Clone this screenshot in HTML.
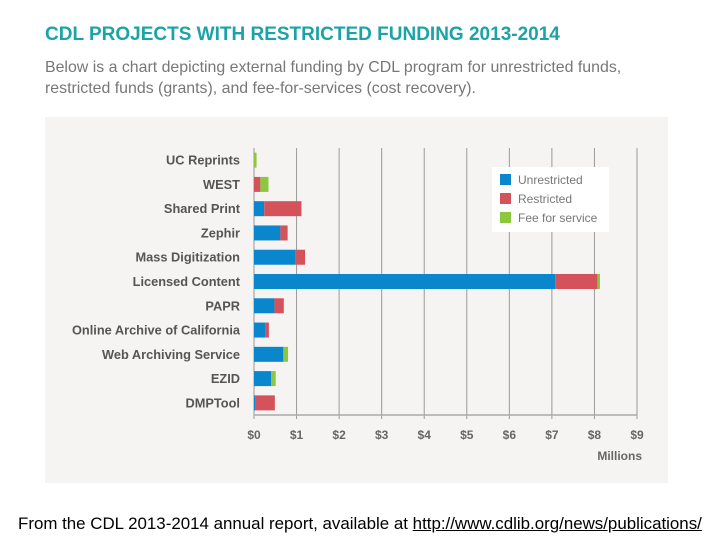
<!DOCTYPE html>
<html><head><meta charset="utf-8"><style>
body{margin:0;width:720px;height:540px;background:#fff;position:relative;overflow:hidden;font-family:"Liberation Sans",sans-serif}
.t{position:absolute;white-space:nowrap}
</style></head><body>
<div class="t" style="left:45px;top:24px;font-size:19px;font-weight:bold;color:#1ba3a8">CDL PROJECTS WITH RESTRICTED FUNDING 2013-2014</div>
<div class="t" style="left:45px;top:57px;font-size:15.9px;line-height:21px;color:#777">Below is a chart depicting external funding by CDL program for unrestricted funds,<br>restricted funds (grants), and fee-for-services (cost recovery).</div>
<svg id="c" style="position:absolute;left:0;top:0" width="720" height="540"></svg>
<div class="t" style="left:18px;top:514px;font-size:16.9px;color:#000">From the CDL 2013-2014 annual report, available at <span style="color:#000;text-decoration:underline">http://www.cdlib.org/news/publications/</span></div>
<script>
const categories=["UC Reprints","WEST","Shared Print","Zephir","Mass Digitization","Licensed Content","PAPR","Online Archive of California","Web Archiving Service","EZID","DMPTool"];
const unrestricted=[0,0,0.24,0.62,0.98,7.08,0.48,0.26,0.69,0.40,0.04];
const restricted=[0,0.15,0.875,0.17,0.22,0.99,0.22,0.09,0,0,0.45];
const feeForService=[0.06,0.19,0,0,0,0.06,0,0,0.11,0.11,0];
const ticks=[0,1,2,3,4,5,6,7,8,9];
const tickLabels=["$0","$1","$2","$3","$4","$5","$6","$7","$8","$9"];
const svg=document.getElementById('c');const NS="http://www.w3.org/2000/svg";
function mk(t,a,p){const e=document.createElementNS(NS,t);for(const k in a)e.setAttribute(k,a[k]);(p||svg).appendChild(e);return e;}
const x0=254,x1=637,yTop=148,yBase=415;
const xs=v=>x0+(x1-x0)*v/9;
const rowH=(yBase-yTop)/categories.length;
const yc=i=>yTop+rowH*(i+0.5);
let e=mk('rect',{x:45,y:117,width:623,height:366,fill:'#f5f4f2'});


ticks.forEach((t,i)=>{
 let g=mk('line',{x1:xs(t),x2:xs(t),y1:yTop,y2:yBase+4,stroke:t===0?'#999':'#9a9a9a','stroke-width':1});
 
 
 let l=mk('text',{x:xs(t),y:439,'text-anchor':'middle','font-size':12,'font-weight':'bold',fill:'#666'});l.textContent=tickLabels[i];
 
 
});
e=mk('line',{x1:x0,x2:x1,y1:yBase,y2:yBase,stroke:'#aaa','stroke-width':1.5});


e=mk('text',{x:642,y:460,'text-anchor':'end','font-size':12,'font-weight':'bold',fill:'#666'});e.textContent='Millions';


const cols=['#0a86cc','#d4525a','#8dc63f'];
categories.forEach((c,i)=>{
 const y=yc(i);
 let l=mk('text',{x:240,y:y+4.5,'text-anchor':'end','font-size':12.8,'font-weight':'bold',fill:'#555'});l.textContent=c;
 
 
 let s=0;[unrestricted[i],restricted[i],feeForService[i]].forEach((v,k)=>{
  if(v>0){let r=mk('rect',{x:xs(s),y:y-7.5,width:xs(s+v)-xs(s),height:15,fill:cols[k]});
  
  }
  s+=v;});
});
e=mk('rect',{x:492,y:167,width:117,height:65,fill:'#fff'});


['Unrestricted','Restricted','Fee for service'].forEach((n,k)=>{
 let r=mk('rect',{x:500,y:174+k*19,width:11,height:11,fill:cols[k]});
 
 
 let t=mk('text',{x:518,y:184+k*19,'font-size':12,fill:'#777'});t.textContent=n;
 
 
});
</script>
</body></html>
